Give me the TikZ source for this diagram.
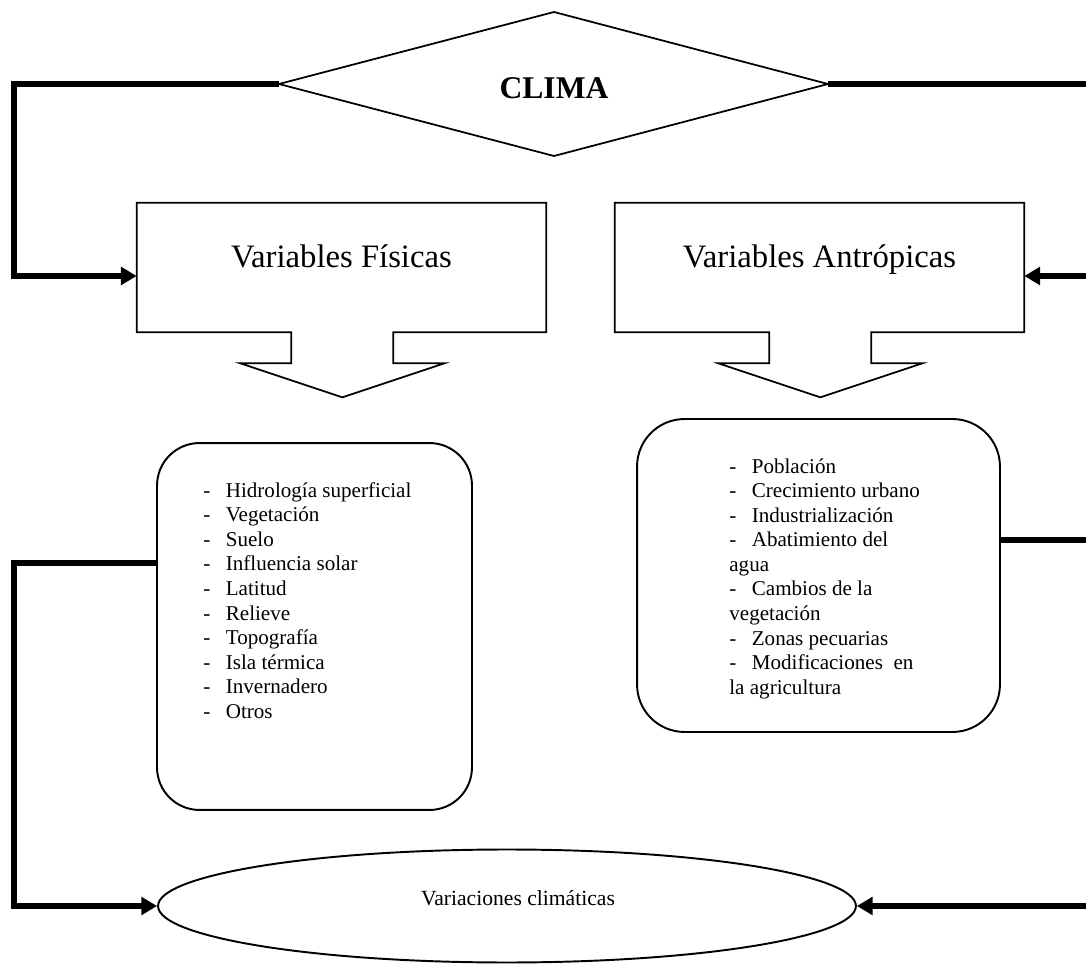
\documentclass[tikz,border=0pt]{standalone}
\usepackage{fontspec}
\setmainfont{Liberation Serif}
\usetikzlibrary{
    positioning,
    arrows.meta,
    calc,
    shapes.geometric
}
\newcommand{\guion}{\makebox[12.8pt][l]{-}}

\begin{document}
\begin{tikzpicture}[x=0.02cm, y=-0.02cm,
        linea/.style={line width=1pt},
        flecha/.style={line width=3pt, -{Triangle[length=9pt,width=10pt]}},
        varbox/.style={minimum width=8.18cm, minimum height=2.58cm, inner sep=0pt},
        titulo/.style={font=\fontsize{18.6}{20}\selectfont, anchor=base},
        lista/.style={align=left, inner sep=0pt, anchor=north west, font=\fontsize{12}{14}\selectfont},
        caja/.style={draw, line width=1.1pt, inner sep=0pt}]
        \clip (0,0) rectangle (1086,969);
        % 座標設定
        \coordinate (cT) at (554,12);
        \coordinate (cR) at (828,84);
        \coordinate (cB) at (554,156);
        \coordinate (cL) at (279,84);
        \coordinate (izq) at (14,0);
        \coordinate (der) at (1095,0);

        % ひし形
        \draw[linea] (cT)--(cR)--(cB)--(cL)--cycle;
        \node[font=\fontsize{18}{20}\selectfont\bfseries] (clima) at (554,88) {CLIMA};

        % 矢印付きの箱
        \node[varbox] (fis) at (341.5,267.5) {};
        \node[varbox] (ant) at (819.5,267.5) {};
        \foreach \n in {fis, ant} {
            \draw[linea] (\n.south west) -- (\n.north west) -- (\n.north east) -- (\n.south east)
                -- ++(-153,0) -- ++(0,31) -- ++(51,0) -- ++(-102,34) -- ++(-102,-34)
                -- ++(51,0) -- ++(0,-31) -- cycle;
        }
        \node[titulo] (fisT) at (341.5,268) {Variables Físicas};
        \node[titulo] (antT) at (819.5,268) {Variables Antrópicas};

        % 角丸の箱
        \node[caja, rounded corners=0.85cm, minimum width=6.3cm, minimum height=7.34cm] (fisL) at (314.5,626.5) {};
        \node[caja, rounded corners=0.95cm, minimum width=7.26cm, minimum height=6.26cm] (antL) at (818.5,575.5) {};
        \node[lista] (fisLT) at (203,482) {\guion Hidrología superficial\\
            \guion Vegetación\\
            \guion Suelo\\
            \guion Influencia solar\\
            \guion Latitud\\
            \guion Relieve\\
            \guion Topografía\\
            \guion Isla térmica\\
            \guion Invernadero\\
            \guion Otros};
        \node[lista] (antLT) at (729,458) {\guion Población\\
            \guion Crecimiento urbano\\
            \guion Industrialización\\
            \guion Abatimiento del\\
            agua\\
            \guion Cambios de la\\
            vegetación\\
            \guion Zonas pecuarias\\
            \guion Modificaciones\ \ en\\
            la agricultura};

        % 楕円
        \node[ellipse, draw, line width=1.1pt, inner sep=0pt, minimum width=13.96cm, minimum height=2.26cm] (vc) at (507,906) {};
        \node[font=\fontsize{12.3}{14}\selectfont, anchor=base] (vcT) at (518,905) {Variaciones climáticas};

        % 矢印
        \coordinate (fisW) at ([yshift=-0.17cm]fis.west);
        \coordinate (antE) at ([yshift=-0.17cm]ant.east);
        \coordinate (fisLW) at ([yshift=1.27cm]fisL.west);
        \coordinate (antLE) at ([yshift=0.71cm]antL.east);
        \draw[flecha] (cL) -- (cL -| izq) |- (fisW);
        \draw[flecha] (cR) -- (cR -| der) |- (antE);
        \draw[flecha] (fisLW) -- (fisLW -| izq) |- (vc.west);
        \draw[flecha] (antLE) -- (antLE -| der) |- (vc.east);
    \end{tikzpicture}
\end{document}
